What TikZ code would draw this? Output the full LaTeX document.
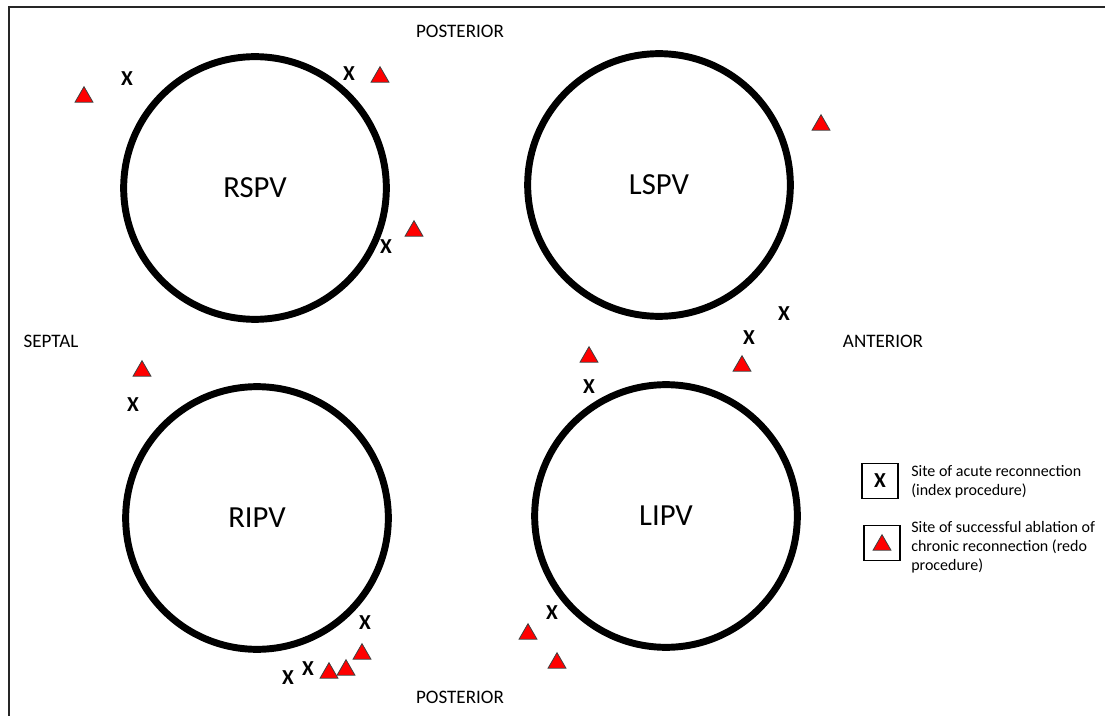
\documentclass[tikz,border=0pt]{standalone}
\usepackage{fontspec}
\setmainfont{Carlito}
\usetikzlibrary{shapes.geometric}
\begin{document}
\begin{tikzpicture}[x=0.75pt,y=-0.75pt,
  vein/.style={circle,draw=black,line width=5.2pt,minimum size=197pt,inner sep=0pt,font=\fontsize{23}{27}\selectfont},
  xmark/.style={inner sep=0pt,font=\fontsize{16}{19}\selectfont\bfseries},
  tri/.style={regular polygon,regular polygon sides=3,fill=red,draw=black!75,line width=0.6pt,minimum size=15.5pt,inner sep=0pt},
  dirlab/.style={inner sep=0pt,font=\fontsize{14.3}{17}\selectfont},
  legtext/.style={inner sep=0pt,anchor=north west,align=left,font=\fontsize{12}{14.3}\selectfont},
  legbox/.style={draw=black,line width=0.8pt,minimum width=27pt,minimum height=26pt,inner sep=0pt}]
\useasboundingbox (0,0) rectangle (1105,716);
% frame (top and left edges visible)
\draw[line width=1.6pt,black!85] (9,716) -- (9,7) -- (1105,7);

% veins
\node[vein] (rspv) at (255,188) {RSPV};
\node[vein] (lspv) at (659,185) {LSPV};
\node[vein] (ripv) at (257,518) {RIPV};
\node[vein] (lipv) at (666,516) {LIPV};

% direction labels
\node[dirlab] (postT) at (460,31) {POSTERIOR};
\node[dirlab] (postB) at (460,697) {POSTERIOR};
\node[dirlab] (sept) at (51,341) {SEPTAL};
\node[dirlab] (ant) at (883,341) {ANTERIOR};

% RSPV markers
\node[xmark] (x1) at (127,79) {X};
\node[tri] (t1) at (84,97) {};
\node[xmark] (x2) at (349,74) {X};
\node[tri] (t2) at (380,77) {};
\node[xmark] (x3) at (386,247) {X};
\node[tri] (t3) at (414,231) {};

% LSPV markers
\node[tri] (t4) at (821,125) {};
\node[xmark] (x4) at (784,314) {X};
\node[xmark] (x5) at (749,338) {X};
\node[tri] (t5) at (742,366) {};

% LIPV markers
\node[tri] (t6) at (589,357) {};
\node[xmark] (x6) at (589,387) {X};
\node[xmark] (x7) at (552,613) {X};
\node[tri] (t7) at (528,634) {};
\node[tri] (t8) at (557,663) {};

% RIPV markers
\node[tri] (t9) at (142,371) {};
\node[xmark] (x8) at (133,405) {X};
\node[xmark] (x9) at (365,623) {X};
\node[tri] (t10) at (362,654) {};
\node[tri] (t11) at (346,670) {};
\node[tri] (t12) at (329,673) {};
\node[xmark] (x10) at (308,669) {X};
\node[xmark] (x11) at (288,678) {X};

% legend
\node[legbox] (lb1) at (880,481) {};
\node[xmark] (lx) at (lb1.center) {X};
\node[legbox] (lb2) at (882,543) {};
\node[tri] (lt) at (882,545) {};
\node[legtext] (l1) at (911,465) {Site of acute reconnection\\(index procedure)};
\node[legtext] (l2) at (911,521) {Site of successful ablation of\\chronic reconnection (redo\\procedure)};
\end{tikzpicture}
\end{document}
